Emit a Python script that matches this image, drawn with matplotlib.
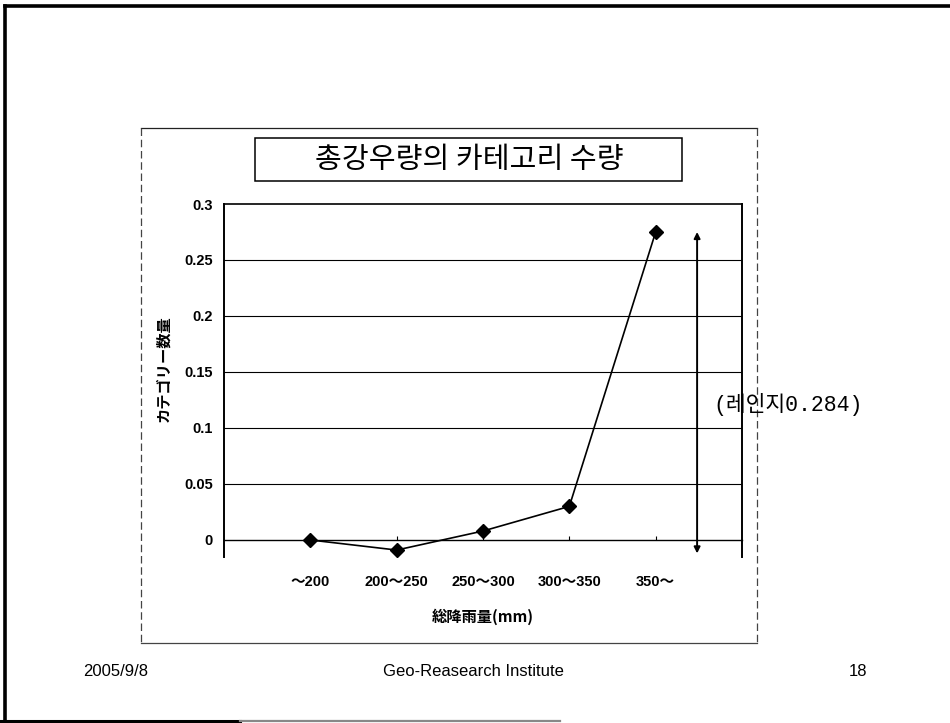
import matplotlib
matplotlib.use("Agg")
import matplotlib.pyplot as plt
from matplotlib.lines import Line2D
from matplotlib.patches import Rectangle

# Category data
categories = ["～200", "200～250", "250～300", "300～350", "350～"]
values = [0.0, -0.009, 0.008, 0.030, 0.275]
y_ticks = [0, 0.05, 0.1, 0.15, 0.2, 0.25, 0.3]
y_tick_labels = ["0", "0.05", "0.1", "0.15", "0.2", "0.25", "0.3"]
range_low = -0.012
range_high = 0.275

title = "총강우량의 카테고리 수량"
x_label = "総降雨量(mm)"
y_label = "カテゴリー数量"
range_note = "(레인지0.284)"
footer_left = "2005/9/8"
footer_center = "Geo-Reasearch Institute"
footer_right = "18"

W, H = 950, 723
fig = plt.figure(figsize=(9.5, 7.23), dpi=100)
fig.patch.set_facecolor("white")


def fx(px):
    return px / W


def fy(py):
    return 1 - py / H


def fig_line(xs, ys, **kw):
    fig.add_artist(Line2D([fx(v) for v in xs], [fy(v) for v in ys],
                          transform=fig.transFigure, **kw))


# Slide frame
fig_line([5, 950], [6, 6], color="black", lw=2.6)
fig_line([5, 5], [6, 723], color="black", lw=2.6)
fig_line([0, 240], [721, 721], color="black", lw=2.2)
fig_line([240, 560], [721, 721], color="#888888", lw=1.6)

# Chart area border
fig_line([141, 757], [128, 128], color="#222222", lw=0.9)
fig_line([141, 757], [643, 643], color="#444444", lw=0.9)
fig_line([141, 141], [128, 643], color="#444444", lw=0.9, ls=(0, (6, 3)))
fig_line([757, 757], [128, 643], color="#444444", lw=0.9, ls=(0, (6, 3)))

# Title box
fig.add_artist(Rectangle((fx(255), fy(181)), fx(682) - fx(255), fy(138) - fy(181),
                         transform=fig.transFigure, fill=False,
                         edgecolor="black", lw=1.1))
fig.text(fx(469), fy(160), title, family=["Noto Sans CJK KR"], fontsize=21,
         ha="center", va="center")

# Plot area
ax = fig.add_axes([fx(224), fy(557), fx(742) - fx(224), fy(204) - fy(557)])

# Spines first: moving a spine resets its axis ticks
ax.spines["bottom"].set_position(("data", 0))
ax.spines["bottom"].set_linewidth(1.0)
ax.spines["left"].set_linewidth(1.4)
ax.spines["top"].set_linewidth(1.2)
ax.spines["right"].set_linewidth(1.4)

xs = list(range(len(categories)))
ax.plot(xs, values, color="black", lw=1.2, marker="D", markersize=7.5, zorder=5,
        clip_on=False)
ax.set_xlim(-1, len(categories))
ax.set_ylim(-0.0152, 0.3)

ax.set_yticks(y_ticks)
ax.set_yticklabels(y_tick_labels, family="Liberation Sans", fontweight="bold",
                   fontsize=10.5)
ax.tick_params(axis="y", length=0, pad=8)
for yv in y_ticks[1:-1]:
    ax.axhline(yv, color="black", lw=0.8, zorder=1)

ax.set_xticks(xs)
ax.tick_params(axis="x", direction="in", length=3, width=0.8, pad=25)
ax.set_xticklabels(categories, family=["Liberation Sans", "Noto Sans CJK JP"],
                   fontweight="bold", fontsize=10.5)

# Range arrow
ax.annotate("", xy=(4.48, range_high), xytext=(4.48, range_low),
            arrowprops=dict(arrowstyle="<|-|>", color="black", lw=1.4,
                            mutation_scale=9, shrinkA=0, shrinkB=0),
            annotation_clip=False)

fig.text(fx(713), fy(405), range_note,
         family=["Liberation Mono", "Noto Sans CJK KR"], fontsize=15.5,
         ha="left", va="center")

# Axis titles
fig.text(fx(163), fy(369), y_label, family=["Noto Sans CJK JP"],
         fontweight="bold", fontsize=11, rotation=90,
         ha="center", va="center")
fig.text(fx(483), fy(617), x_label, family=["Noto Sans CJK JP"],
         fontweight="bold", fontsize=11, ha="center", va="center")

# Footer
fig.text(fx(83), fy(671), footer_left, family="Liberation Sans", fontsize=12,
         ha="left", va="center")
fig.text(fx(473), fy(671), footer_center, family="Liberation Sans", fontsize=12,
         ha="center", va="center")
fig.text(fx(858), fy(671), footer_right, family="Liberation Sans", fontsize=12,
         ha="center", va="center")

fig.savefig("out.png", dpi=100)
